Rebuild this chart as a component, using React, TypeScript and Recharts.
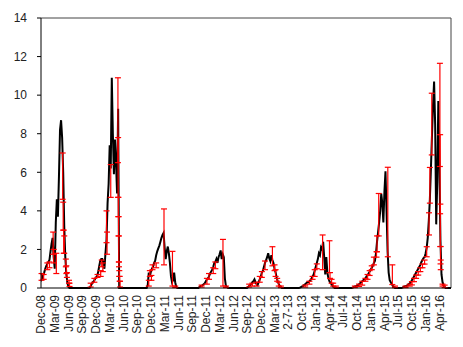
import { LineChart, Line, XAxis, YAxis, ErrorBar, ReferenceLine } from 'recharts';

// weekly series, week 0 = start of Dec-08
const lastWeek = 388;

const tickLabels = [
  'Dec-08', 'Mar-09', 'Jun-09', 'Sep-09', 'Dec-09', 'Mar-10', 'Jun-10', 'Sep-10',
  'Dec-10', 'Mar-11', 'Jun-11', 'Sep-11', 'Dec-11', 'Mar-12', 'Jun-12', 'Sep-12',
  'Dec-12', 'Mar-13', '2-7-13', 'Oct-13', 'Jan-14', 'Apr-14', 'Jul-14', 'Oct-14',
  'Jan-15', 'Apr-15', 'Jul-15', 'Oct-15', 'Jan-16', 'Apr-16',
];
const yTicks = [0, 2, 4, 6, 8, 10, 12, 14];

// first week of each season, values are weekly from there (zero outside seasons)
const seasonStarts = [0, 46, 101, 149, 195, 244, 294, 341];
const season1 = [0.35, 0.5, 0.65, 0.8, 1.0, 1.15, 1.25, 1.35, 1.45, 1.9, 2.3, 2.6, 1.6, 1.0, 3.4, 4.6, 3.7, 5.8, 8.2, 8.7, 7.8, 6.0, 3.2, 1.6, 0.7, 0.25, 0.05];
const season2 = [0, 0.1, 0.2, 0.3, 0.35, 0.45, 0.55, 0.6, 0.8, 1.1, 1.4, 1.5, 1.5, 1.3, 1.0, 1.8, 2.5, 4.4, 5.4, 7.4, 6.2, 10.9, 8.0, 5.9, 7.7, 6.5, 4.9, 9.3];
const season3 = [0.15, 0.8, 0.6, 0.85, 1.0, 1.1, 1.3, 1.4, 1.7, 1.9, 2.05, 2.2, 2.4, 2.6, 2.75, 2.85, 2.1, 1.5, 1.9, 2.15, 1.8, 1.3, 0.6, 0.3, 0.4, 0.8, 0.3, 0.05];
const season4 = [0, 0.05, 0.1, 0.1, 0.15, 0.2, 0.25, 0.35, 0.45, 0.5, 0.6, 0.75, 0.85, 0.95, 1.1, 1.3, 1.35, 1.5, 1.3, 1.6, 1.75, 1.95, 1.5, 1.75, 1.6, 0.5, 0.1, 0.05];
const season5 = [0, 0.05, 0.1, 0.15, 0.2, 0.3, 0.35, 0.45, 0.3, 0.2, 0.15, 0.3, 0.45, 0.6, 0.8, 0.9, 1.1, 1.3, 1.45, 1.6, 1.8, 1.55, 1.4, 1.7, 1.45, 1.3, 1.0, 0.8, 0.55, 0.35, 0.2, 0.1, 0.05];
const season6 = [0, 0.02, 0.05, 0.08, 0.1, 0.15, 0.2, 0.25, 0.3, 0.3, 0.35, 0.4, 0.5, 0.6, 0.7, 0.9, 1.1, 1.3, 1.5, 1.8, 1.7, 2.1, 2.0, 2.4, 1.6, 0.7, 1.6, 0.8, 0.5, 0.35, 0.25, 0.2, 0.1, 0.05];
const season7 = [0, 0.02, 0.05, 0.08, 0.1, 0.12, 0.15, 0.2, 0.25, 0.3, 0.35, 0.4, 0.45, 0.5, 0.6, 0.65, 0.75, 0.85, 0.95, 1.05, 1.15, 1.3, 1.4, 1.8, 2.4, 2.9, 3.4, 4.0, 4.9, 4.4, 3.4, 5.0, 6.05, 4.0, 1.9, 0.8, 0.4, 0.3, 0.2, 0.1, 0.05];
const season8 = [0, 0.02, 0.05, 0.08, 0.1, 0.12, 0.15, 0.2, 0.25, 0.3, 0.4, 0.5, 0.6, 0.7, 0.8, 0.9, 1.0, 1.1, 1.2, 1.35, 1.45, 1.55, 1.6, 1.8, 2.1, 2.6, 3.5, 4.6, 6.2, 7.9, 9.5, 10.7, 8.5, 3.3, 5.5, 9.7, 6.5, 2.5, 0.7, 0.3, 0.15, 0.05];
const seasons = [season1, season2, season3, season4, season5, season6, season7, season8];

// red error bars: week, lower end, upper end
const barWeeks = [
  0.5, 2.5, 6, 8, 11.5, 12, 14.5, 20.5, 21, 21.5, 22, 23.5, 24, 24.5, 26.5, 27,
  47, 50.5, 53.5, 56.5, 57.5, 58.5, 62, 62.5, 66, 72.8, 73, 73.2, 73.4, 73.6, 73.8, 74.1, 74.4, 74.8,
  102, 103, 104.5, 105.5, 109, 116.4, 124.4, 127,
  152, 157, 159, 163, 165, 172.2, 175,
  197, 200, 204, 207, 209, 212, 219, 221, 222, 223.5, 225, 227,
  250, 254, 257, 259, 261, 266.5, 273, 273.5, 275, 276.5, 279,
  297, 301, 304, 307, 309, 311, 313, 315, 317.5, 318, 319.6, 328.2, 332.5, 335,
  345, 349, 351, 353, 355, 357, 359, 361, 363, 365, 367.2, 368, 369.8, 377.5, 377.7, 377.9, 378.1, 378.3, 380, 382,
];
const barLow = [
  0.4, 0.45, 0.95, 1.05, 1.75, 1.3, 0.75, 4.6, 3.0, 1.8, 1.8, 1.1, 0.75, 0.55, 0.25, 0.08,
  0.05, 0.3, 0.55, 0.6, 1.1, 0.85, 2.35, 1.75, 4.7, 6.5, 4.7, 3.7, 2.7, 1.35, 1.1, 0.6, 0.35, 0.05,
  0.1, 0.6, 0.4, 0.95, 1.05, 1.2, 0.1, 0.02,
  0.05, 0.2, 0.45, 0.75, 1.0, 0.1, 0.02,
  0.05, 0.1, 0.1, 0.3, 0.55, 0.95, 1.15, 0.9, 0.6, 0.35, 0.1, 0.02,
  0.05, 0.2, 0.45, 0.6, 1.0, 0.95, 0.8, 0.5, 0.25, 0.1, 0.02,
  0.02, 0.08, 0.15, 0.35, 0.45, 0.65, 0.95, 1.2, 1.6, 1.88, 2.7, 1.62, 0.18, 0.02,
  0.02, 0.1, 0.16, 0.33, 0.5, 0.67, 0.85, 1.05, 1.24, 1.62, 2.75, 4.4, 6.9, 6.3, 3.85, 2.15, 1.25, 0.95, 0.1, 0.02,
];
const barHigh = [
  0.75, 0.7, 1.3, 1.35, 2.9, 2.0, 1.8, 7.0, 4.45, 3.0, 2.7, 1.5, 1.15, 0.8, 0.4, 0.25,
  0.25, 0.5, 0.7, 0.9, 1.45, 1.3, 4.0, 2.9, 6.4, 10.9, 7.8, 4.7, 3.7, 2.7, 1.35, 0.9, 0.6, 0.35,
  0.4, 0.9, 0.65, 1.2, 1.3, 4.1, 1.9, 0.1,
  0.15, 0.5, 0.75, 1.05, 1.35, 2.52, 0.1,
  0.2, 0.25, 0.3, 0.6, 0.85, 1.4, 2.14, 1.2, 0.95, 0.5, 0.3, 0.1,
  0.15, 0.35, 0.6, 0.95, 1.25, 2.75, 2.45, 0.8, 0.45, 0.25, 0.1,
  0.1, 0.2, 0.35, 0.5, 0.7, 0.9, 1.15, 1.6, 1.88, 2.7, 4.9, 6.26, 1.2, 0.1,
  0.1, 0.2, 0.33, 0.5, 0.67, 0.85, 1.05, 1.24, 1.45, 2.14, 3.9, 6.25, 10.1, 11.65, 7.95, 4.35, 2.15, 1.45, 0.2, 0.15,
];

const lineData = Array.from({ length: lastWeek + 1 }, (_, week) => {
  let value = 0;
  seasons.forEach((s, i) => {
    const k = week - seasonStarts[i];
    if (k >= 0 && k < s.length) value = s[k];
  });
  return { week, value };
});

const barData = barWeeks.map((week, i) => ({
  week,
  mid: (barLow[i] + barHigh[i]) / 2,
  err: (barHigh[i] - barLow[i]) / 2,
}));

const font = '"Liberation Sans", Arial, sans-serif';

function WeekTick({ x, y, payload }: any) {
  const label = tickLabels[Math.round(payload.value / 13)];
  return (
    <text
      x={x}
      y={y}
      transform={`rotate(-90, ${x}, ${y})`}
      textAnchor="end"
      dy="0.35em"
      fontSize={12}
      fontFamily={font}
      fill="#222"
    >
      {label}
    </text>
  );
}

export default function App() {
  return (
    <div style={{ position: 'fixed', left: 0, top: 0, width: 463, height: 347, background: '#fff' }}>
      <LineChart width={463} height={347} margin={{ top: 18, right: 12, bottom: 0, left: 0 }}>
        <XAxis
          type="number"
          dataKey="week"
          domain={[0, lastWeek]}
          ticks={tickLabels.map((_, i) => i * 13)}
          interval={0}
          height={59}
          tickLine={false}
          tickSize={0}
          tickMargin={7}
          axisLine={{ stroke: '#000' }}
          tick={<WeekTick />}
          allowDataOverflow
        />
        <YAxis
          type="number"
          domain={[0, 14]}
          ticks={yTicks}
          width={41}
          tickSize={4}
          tickMargin={10}
          axisLine={{ stroke: '#000' }}
          tickLine={{ stroke: '#000' }}
          tick={{ fontSize: 12, fontFamily: font, fill: '#222' }}
        />
        <ReferenceLine y={14} stroke="#444" />
        <ReferenceLine x={lastWeek} stroke="#444" />
        <Line
          data={lineData}
          dataKey="value"
          type="linear"
          stroke="#000"
          strokeWidth={2}
          dot={false}
          activeDot={false}
          isAnimationActive={false}
        />
        <Line
          data={barData}
          dataKey="mid"
          type="linear"
          stroke="none"
          dot={false}
          activeDot={false}
          isAnimationActive={false}
        >
          <ErrorBar dataKey="err" direction="y" width={3} stroke="#ff0000" strokeWidth={1.2} isAnimationActive={false} />
        </Line>
      </LineChart>
    </div>
  );
}
